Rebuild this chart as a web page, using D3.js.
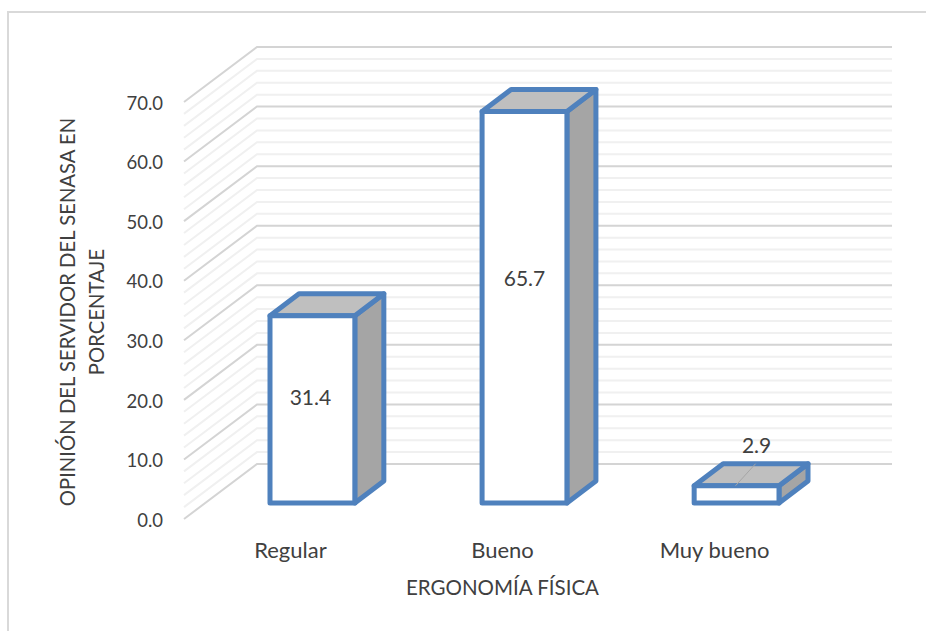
<!DOCTYPE html>
<html>
<head>
<meta charset="utf-8">
<script src="https://cdn.jsdelivr.net/npm/d3@7/dist/d3.min.js"></script>
<style>
html,body{margin:0;padding:0;background:#fff;}
svg{display:block;}
text{font-family:Lato,"Open Sans",sans-serif;fill:#404040;}
</style>
</head>
<body>
<svg id="chart" width="926" height="631"></svg>
<script>
// Chart data
const categories = ["Regular", "Bueno", "Muy bueno"];
const values = [31.4, 65.7, 2.9];
const valueLabels = ["31.4", "65.7", "2.9"];
const yTicks = [0, 10, 20, 30, 40, 50, 60, 70];
const minorStep = 2;
const xTitle = "ERGONOMÍA FÍSICA";
const yTitleLines = ["OPINIÓN DEL SERVIDOR DEL SENASA EN", "PORCENTAJE"];

const svg = d3.select("#chart");

// Chart frame, open past the right and bottom of the page
svg.append("rect")
  .attr("x", 8).attr("y", 12).attr("width", 960).attr("height", 660)
  .attr("fill", "#fff").attr("stroke", "#d9d9d9").attr("stroke-width", 2);

// Oblique projection: floor-front, floor-back, and bar depth offsets
const wallFront = {x: 184, y0: 519};
const wallBack = {x: 257, right: 892, y0: 464};
const yFront = d3.scaleLinear().domain([0, 70]).range([wallFront.y0, 102]);
const yBack = d3.scaleLinear().domain([0, 70]).range([wallBack.y0, 47]);
const yBar = d3.scaleLinear().domain([0, 70]).range([503, 503 - 417.2]);
const x = d3.scaleBand().domain(categories).range([270, 779]).paddingInner(0.6).paddingOuter(0);
const depth = {dx: 29, dy: -22};

// Gridlines run along the side wall and across the back wall
const gridValues = d3.range(0, 70 + minorStep, minorStep);
const gridPath = d3.line().x(d => d[0]).y(d => d[1]);
svg.append("g").selectAll("path").data(gridValues).join("path")
  .attr("d", v => gridPath([[wallFront.x, yFront(v)], [wallBack.x, yBack(v)], [wallBack.right, yBack(v)]]))
  .attr("fill", "none")
  .attr("stroke", v => v % 10 === 0 ? "#d4d4d4" : "#f0f0f0")
  .attr("stroke-width", 2);

// Value-axis labels
svg.append("g").selectAll("text").data(yTicks).join("text")
  .attr("x", 163).attr("y", v => yFront(v) + 3)
  .attr("text-anchor", "end").attr("dominant-baseline", "middle")
  .attr("font-size", 18.5)
  .text(v => d3.format(".1f")(v));

// Bars: side face, top face, then front face
const bars = svg.append("g").selectAll("g").data(categories.map((c, i) => ({c, v: values[i], label: valueLabels[i]}))).join("g");
const stroke = {stroke: "#4f81bd", width: 5};
const face = (sel, pts, fill) => sel.append("path")
  .attr("d", "M" + pts.map(p => p.join(",")).join("L") + "Z")
  .attr("fill", fill).attr("stroke", stroke.stroke)
  .attr("stroke-width", stroke.width).attr("stroke-linejoin", "round");

bars.each(function(d) {
  const g = d3.select(this);
  const x0 = x(d.c), x1 = x0 + x.bandwidth();
  const yb = yBar(0), yt = yBar(d.v);
  face(g, [[x1, yb], [x1 + depth.dx, yb + depth.dy], [x1 + depth.dx, yt + depth.dy], [x1, yt]], "#a5a5a5");
  face(g, [[x0, yt], [x0 + depth.dx, yt + depth.dy], [x1 + depth.dx, yt + depth.dy], [x1, yt]], "#bfbfbf");
  face(g, [[x0, yb], [x1, yb], [x1, yt], [x0, yt]], "#fff");
});

// Leader line from the small bar up to its label
const last = categories[2];
svg.append("line")
  .attr("x1", x(last) + x.bandwidth() / 2 - 1).attr("y1", yBar(values[2]))
  .attr("x2", x(last) + x.bandwidth() / 2 + 19).attr("y2", yBar(values[2]) + depth.dy)
  .attr("stroke", "#a6a6a6").attr("stroke-width", 1);

// Data labels
const labelPos = [{dx: -2, y: 400}, {dx: 0, y: 281}, {dx: 20, y: 448}];
svg.append("g").selectAll("text").data(categories).join("text")
  .attr("x", (c, i) => x(c) + x.bandwidth() / 2 + labelPos[i].dx)
  .attr("y", (c, i) => labelPos[i].y)
  .attr("text-anchor", "middle").attr("dominant-baseline", "middle")
  .attr("font-size", 21)
  .text((c, i) => valueLabels[i]);

// Category labels
svg.append("g").selectAll("text").data(categories).join("text")
  .attr("x", c => x(c) + x.bandwidth() / 2 - 22).attr("y", 552)
  .attr("text-anchor", "middle").attr("dominant-baseline", "middle")
  .attr("font-size", 22)
  .text(c => c);

// Axis titles
svg.append("text").attr("x", 502.5).attr("y", 590)
  .attr("text-anchor", "middle").attr("dominant-baseline", "middle")
  .attr("font-size", 20.5).text(xTitle);

svg.append("g").attr("transform", "translate(80,312) rotate(-90)")
  .selectAll("text").data(yTitleLines).join("text")
  .attr("x", 0).attr("y", (d, i) => -10 + i * 29)
  .attr("text-anchor", "middle").attr("dominant-baseline", "middle")
  .attr("font-size", 20.3).text(d => d);
</script>
</body>
</html>
